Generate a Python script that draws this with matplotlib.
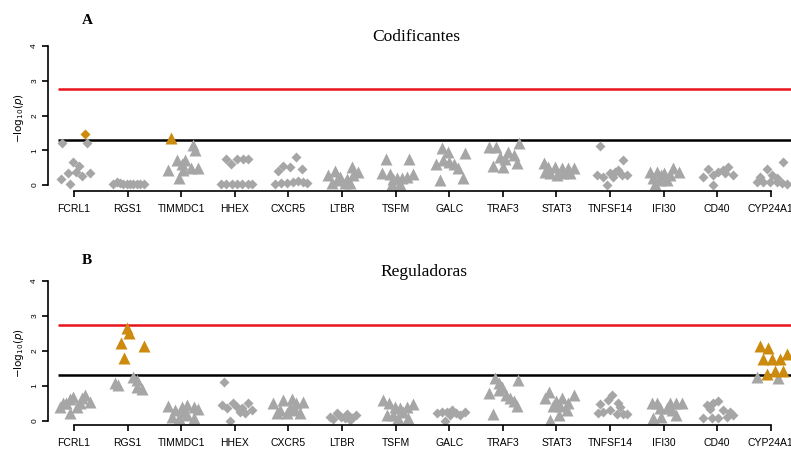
import matplotlib
matplotlib.use("Agg")
import matplotlib.pyplot as plt
import numpy as np

genes = ["FCRL1", "RGS1", "TIMMDC1", "HHEX", "CXCR5", "LTBR", "TSFM",
         "GALC", "TRAF3", "STAT3", "TNFSF14", "IFI30", "CD40", "CYP24A1"]

# A: codificantes
cod_marker = ["D", "D", "^", "D", "D", "^", "^", "^", "^", "^", "D", "^", "D", "D"]
cod_dx = [
    [-0.23, 0.21, 0.25, -0.01, 0.09, -0.24, -0.12, 0.04, 0.14, 0.30, -0.07],
    [-0.27, -0.2, -0.14, -0.08, -0.02, 0.05, 0.11, 0.17, 0.23, 0.3],
    [-0.19, 0.22, 0.26, -0.08, 0.07, 0.04, -0.24, 0.19, 0.32, -0.05, 0.01],
    [-0.16, -0.08, 0.05, 0.15, 0.25, -0.26, -0.16, -0.06, 0.04, 0.13, 0.24, 0.33],
    [0.14, -0.1, 0.03, -0.19, 0.25, -0.25, -0.13, -0.02, 0.08, 0.18, 0.28, 0.34],
    [-0.26, -0.13, -0.04, 0.09, 0.18, 0.3, -0.19, 0.06, 0.21, 0.14, -0.1],
    [-0.18, 0.25, -0.26, -0.1, -0.04, 0.03, 0.11, 0.21, 0.32, -0.07, 0.08],
    [-0.14, -0.02, 0.29, -0.25, -0.11, 0.0, 0.08, 0.17, -0.17, 0.25],
    [-0.25, -0.13, 0.31, -0.05, 0.1, 0.21, 0.04, -0.19, 0.01, 0.26],
    [-0.24, -0.15, -0.03, 0.1, 0.22, 0.32, -0.12, 0.01, 0.13, 0.25, -0.21],
    [-0.19, 0.25, -0.25, -0.13, 0.0, 0.09, 0.15, 0.22, 0.31, -0.06, 0.06],
    [-0.25, -0.13, 0.0, 0.18, 0.29, -0.19, -0.07, 0.06, -0.04, -0.16, 0.12],
    [-0.17, 0.21, -0.26, -0.07, 0.02, 0.11, 0.3, -0.08, 0.15],
    [-0.08, 0.23, -0.2, 0.02, -0.26, -0.14, -0.01, 0.11, 0.2, 0.3, 0.11],
]
cod_y = [
    [1.22, 1.46, 1.22, 0.65, 0.55, 0.18, 0.34, 0.36, 0.27, 0.35, 0.02],
    [0.02, 0.1, 0.05, 0.03, 0.02, 0.02, 0.03, 0.02, 0.02, 0.02],
    [1.35, 1.15, 1.0, 0.72, 0.72, 0.43, 0.43, 0.48, 0.48, 0.19, 0.6],
    [0.74, 0.6, 0.74, 0.76, 0.76, 0.03, 0.03, 0.03, 0.03, 0.03, 0.03, 0.03],
    [0.8, 0.56, 0.53, 0.41, 0.46, 0.04, 0.07, 0.07, 0.08, 0.11, 0.08, 0.05],
    [0.29, 0.4, 0.24, 0.16, 0.53, 0.38, 0.05, 0.05, 0.29, 0.05, 0.14],
    [0.74, 0.74, 0.34, 0.31, 0.17, 0.21, 0.19, 0.24, 0.31, 0.02, 0.02],
    [1.06, 0.96, 0.93, 0.6, 0.72, 0.65, 0.6, 0.48, 0.14, 0.19],
    [1.08, 1.08, 1.2, 0.82, 0.96, 0.86, 0.75, 0.56, 0.53, 0.62],
    [0.62, 0.53, 0.53, 0.5, 0.5, 0.5, 0.34, 0.29, 0.34, 0.34, 0.38],
    [1.13, 0.72, 0.29, 0.24, 0.34, 0.38, 0.43, 0.29, 0.29, 0.0, 0.24],
    [0.38, 0.38, 0.34, 0.48, 0.38, 0.19, 0.14, 0.14, 0.29, 0.02, 0.3],
    [0.45, 0.53, 0.24, 0.29, 0.38, 0.43, 0.29, 0.0, 0.35],
    [0.45, 0.67, 0.24, 0.29, 0.08, 0.08, 0.08, 0.1, 0.05, 0.02, 0.19],
]

# B: reguladoras
reg_marker = ["^", "^", "^", "D", "^", "D", "^", "D", "^", "^", "D", "^", "D", "^"]
reg_dx = [
    [-0.26, -0.07, -0.01, 0.21, 0.3, 0.11, -0.14, 0.05, 0.14, -0.2, -0.07],
    [-0.02, 0.03, -0.13, 0.31, -0.07, -0.24, -0.17, 0.11, 0.18, 0.18, 0.26],
    [-0.24, -0.12, 0.01, 0.1, 0.23, 0.32, -0.18, -0.05, 0.1, 0.23, 0.04],
    [-0.2, -0.24, -0.15, -0.04, 0.04, 0.13, 0.25, 0.32, 0.19, -0.09, 0.1],
    [-0.28, -0.1, 0.06, 0.28, -0.22, -0.03, 0.22, -0.16, 0.03, 0.12, 0.15],
    [-0.22, -0.1, -0.01, 0.09, 0.18, 0.27, -0.16, 0.15, 0.06],
    [-0.23, -0.12, -0.01, 0.08, 0.21, 0.32, -0.17, -0.04, 0.05, 0.24, 0.14],
    [-0.23, -0.14, -0.05, 0.05, 0.13, 0.21, 0.29, -0.08, 0.01],
    [-0.15, 0.29, -0.08, -0.02, -0.25, -0.08, 0.06, 0.13, 0.2, 0.26, -0.19],
    [-0.13, 0.32, -0.21, -0.01, 0.1, 0.22, -0.06, 0.07, 0.19, -0.12, 0.04],
    [0.03, -0.19, 0.14, -0.03, 0.19, -0.22, -0.13, 0.0, 0.13, 0.25, 0.32],
    [-0.22, -0.13, 0.12, 0.24, 0.34, -0.07, 0.06, 0.15, -0.19, -0.04, 0.24],
    [-0.2, -0.07, 0.02, -0.13, 0.11, 0.24, -0.26, -0.1, 0.02, 0.18, 0.3],
    [-0.21, -0.05, -0.15, 0.02, 0.17, 0.3, -0.08, 0.08, 0.23, -0.25, 0.14],
]
reg_y = [
    [0.4, 0.21, 0.69, 0.73, 0.54, 0.5, 0.5, 0.4, 0.64, 0.5, 0.62],
    [2.66, 2.5, 2.23, 2.13, 1.8, 1.07, 1.02, 1.26, 1.16, 0.97, 0.9],
    [0.43, 0.31, 0.4, 0.45, 0.4, 0.33, 0.11, 0.09, 0.16, 0.07, 0.26],
    [1.11, 0.45, 0.35, 0.5, 0.4, 0.35, 0.5, 0.31, 0.21, 0.0, 0.26],
    [0.5, 0.59, 0.61, 0.54, 0.21, 0.21, 0.23, 0.31, 0.35, 0.31, 0.52],
    [0.11, 0.21, 0.11, 0.19, 0.07, 0.16, 0.04, 0.02, 0.07],
    [0.59, 0.52, 0.4, 0.37, 0.4, 0.47, 0.16, 0.16, 0.07, 0.07, 0.26],
    [0.21, 0.26, 0.24, 0.31, 0.21, 0.16, 0.26, 0.0, 0.16],
    [1.23, 1.16, 1.07, 0.97, 0.78, 0.88, 0.73, 0.64, 0.56, 0.43, 0.18],
    [0.81, 0.75, 0.64, 0.56, 0.64, 0.52, 0.43, 0.43, 0.31, 0.02, 0.16],
    [0.73, 0.47, 0.52, 0.59, 0.4, 0.21, 0.26, 0.31, 0.18, 0.18, 0.18],
    [0.52, 0.52, 0.5, 0.52, 0.52, 0.35, 0.37, 0.31, 0.07, 0.11, 0.16],
    [0.45, 0.52, 0.56, 0.33, 0.31, 0.26, 0.07, 0.07, 0.07, 0.11, 0.16],
    [2.14, 2.07, 1.78, 1.76, 1.76, 1.9, 1.33, 1.42, 1.42, 1.26, 1.21],
]

sig_line = 1.30    # -log10(0.05)
bonf_line = 2.75

gray = "#A6A6A6"
orange = "#CC8A0E"

fig = plt.figure(figsize=(7.91, 4.5), dpi=100)

def panel(rect, ybot, markers, dxs, ys):
    ax = fig.add_axes(rect)
    ax.hlines([bonf_line], -0.3, 14, color="#E8141C", lw=1.8, zorder=1)
    ax.hlines([sig_line], -0.3, 14, color="black", lw=1.8, zorder=1)
    for i in range(len(genes)):
        x = i + np.array(dxs[i])
        y = np.array(ys[i])
        ms = 8 if markers[i] == "^" else 5
        hi = y > sig_line
        ax.plot(x[~hi], y[~hi], linestyle="none", marker=markers[i], ms=ms,
                color=gray, mec="none", zorder=2)
        ax.plot(x[hi], y[hi], linestyle="none", marker=markers[i], ms=ms,
                color=orange, mec="none", zorder=3)
    ax.set_xlim(-0.485, 13.6)
    ax.set_ylim(ybot, 4.0)
    for s in ["top", "right"]:
        ax.spines[s].set_visible(False)
    ax.spines["left"].set_bounds(0, 4)
    ax.spines["bottom"].set_bounds(0, 13)
    ax.spines["left"].set_linewidth(1.2)
    ax.spines["bottom"].set_linewidth(1.2)
    ax.set_yticks([0, 1, 2, 3, 4])
    ax.set_yticklabels(["0", "1", "2", "3", "4"], rotation=90, va="center",
                       fontsize=6, family="Liberation Sans")
    ax.set_xticks(range(len(genes)))
    ax.set_xticklabels(genes, fontsize=7.5, family="Liberation Sans")
    ax.tick_params(axis="x", length=4, width=1.2, pad=5.5)
    ax.tick_params(axis="y", length=4, width=1.2, pad=3)
    ax.set_ylabel(r"$-\mathrm{log}_{10}(\mathit{p})$", fontsize=7.5, labelpad=4)
    return ax

ax1 = panel([48 / 791, 259.3 / 450, 755 / 791, 144.7 / 450], -0.164,
            cod_marker, cod_dx, cod_y)
ax2 = panel([48 / 791, 25 / 450, 755 / 791, 144 / 450], -0.123,
            reg_marker, reg_dx, reg_y)

fig.text(416 / 791, 1 - 37 / 450, "Codificantes", fontsize=12.5,
         family="Liberation Serif", ha="center", va="center")
fig.text(424 / 791, 1 - 272 / 450, "Reguladoras", fontsize=12.5,
         family="Liberation Serif", ha="center", va="center")
fig.text(87 / 791, 1 - 20 / 450, "A", fontsize=11, fontweight="bold",
         family="Liberation Serif", ha="center", va="center")
fig.text(87 / 791, 1 - 260 / 450, "B", fontsize=11, fontweight="bold",
         family="Liberation Serif", ha="center", va="center")

fig.savefig("out.png", dpi=100)
